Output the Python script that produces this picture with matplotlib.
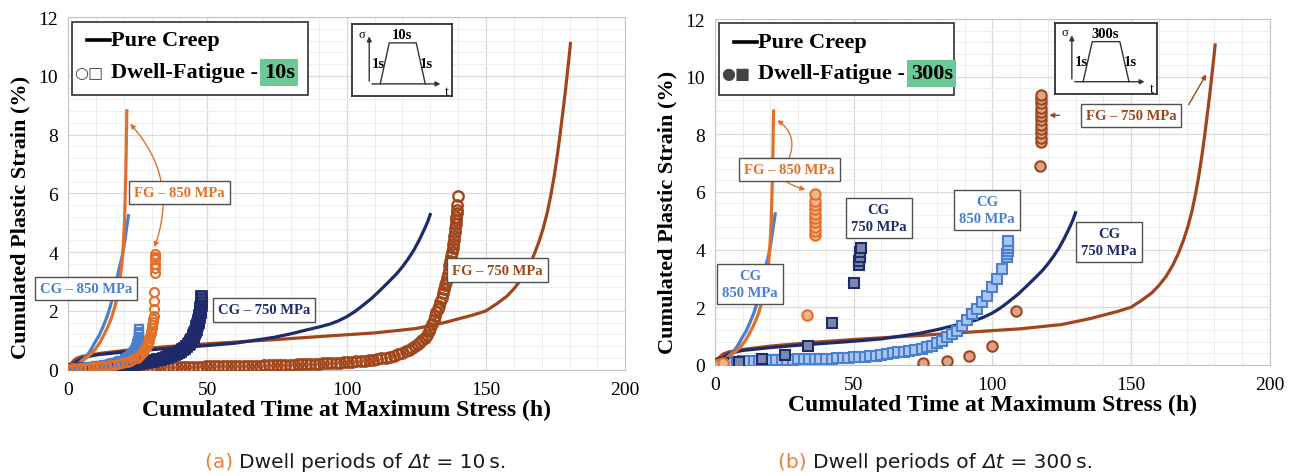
import matplotlib
matplotlib.use("Agg")
import matplotlib.pyplot as plt
from matplotlib.lines import Line2D
from matplotlib.ticker import MultipleLocator

# ---- pure creep curves (same in both panels) ----
creep_fg850_t = [0, 1.5, 3, 4.5, 6, 7.5, 9, 10.3, 11.5, 13, 14.5, 15.8, 16.9, 17.7, 18.3, 18.8,
                 19.3, 19.7, 20.0, 20.3, 20.5, 20.7, 20.9, 21.1]
creep_fg850_e = [0, 0.08, 0.15, 0.25, 0.35, 0.47, 0.6, 0.76, 0.93, 1.2, 1.5, 1.82, 2.17, 2.5,
                 2.9, 3.2, 3.53, 4.0, 4.5, 5.1, 5.8, 6.5, 7.5, 8.81]
creep_cg850_t = [0, 1.5, 3, 4.8, 6.7, 8.2, 9.5, 11.2, 12.7, 14, 15, 16, 16.9, 17.8, 18.5, 19.3,
                 19.9, 20.5, 21.0, 21.4, 21.7]
creep_cg850_e = [0, 0.07, 0.15, 0.3, 0.47, 0.67, 0.9, 1.17, 1.49, 1.8, 2.1, 2.45, 2.85, 3.2, 3.5,
                 3.8, 4.1, 4.45, 4.8, 5.05, 5.24]
creep_cg750_t = [0, 1, 2, 3.5, 5, 7.5, 10, 15, 20, 30, 40, 50, 60, 67, 74, 80, 86, 90, 94, 97,
                 100, 103, 106, 109, 112, 115, 118, 120, 122, 124, 126, 128, 129, 130]
creep_cg750_e = [0, 0.12, 0.2, 0.3, 0.38, 0.45, 0.5, 0.55, 0.6, 0.68, 0.75, 0.82, 0.9, 1.0, 1.1,
                 1.22, 1.36, 1.45, 1.55, 1.66, 1.8, 1.98, 2.2, 2.43, 2.7, 2.98, 3.27, 3.5, 3.76,
                 4.05, 4.4, 4.8, 5.02, 5.28]
creep_fg750_t = [0, 1, 2, 3, 5, 8, 12, 20, 35, 50, 74, 94, 110, 125, 135, 145, 150, 154, 157.5,
                 160, 162.5, 165, 167, 169, 170.5, 172, 173.3, 174.5, 175.6, 176.6, 177.5, 178.4,
                 179.2, 180, 180.3]
creep_fg750_e = [0, 0.2, 0.3, 0.38, 0.45, 0.5, 0.56, 0.65, 0.78, 0.88, 1.02, 1.15, 1.25, 1.4, 1.6,
                 1.85, 2.0, 2.25, 2.5, 2.75, 3.05, 3.45, 3.85, 4.35, 4.8, 5.35, 5.95, 6.6, 7.3,
                 8.0, 8.7, 9.4, 10.1, 10.8, 11.1]

# ---- dwell-fatigue 10 s ----
df10_fg850_t = [0, 1.5, 3, 4.5, 6, 7.5, 9, 10.5, 12, 13.5, 15, 16.5, 18, 19.5, 21, 22.3, 23.5,
                24.6, 25.5, 26.2, 26.8, 27.3, 27.8, 28.2, 28.6, 28.9, 29.2, 29.5, 29.7, 29.9,
                30.1, 30.3, 30.4, 30.55, 30.7, 30.8, 30.9, 31.0, 31.1, 31.2, 31.2, 31.2, 31.2,
                31.2]
df10_fg850_e = [0.01, 0.02, 0.03, 0.04, 0.05, 0.06, 0.08, 0.09, 0.11, 0.13, 0.15, 0.17, 0.2,
                0.23, 0.27, 0.31, 0.36, 0.41, 0.47, 0.53, 0.6, 0.67, 0.74, 0.82, 0.9, 0.98, 1.06,
                1.15, 1.24, 1.33, 1.42, 1.51, 1.61, 1.72, 1.83, 2.06, 2.34, 2.65, 3.3, 3.45, 3.6,
                3.75, 3.85, 3.93]
df10_cg850_t = [0, 1, 2, 3, 4, 5, 6, 7, 8, 9, 10, 11, 12, 13, 14, 15, 16, 17, 18, 18.8, 19.5,
                20.3, 21, 21.6, 22.2, 22.7, 23.2, 23.6, 24, 24.3, 24.6, 24.8, 25, 25.2, 25.3,
                25.4, 25.5, 25.55, 25.6]
df10_cg850_e = [0.02, 0.025, 0.03, 0.04, 0.05, 0.06, 0.07, 0.08, 0.09, 0.1, 0.11, 0.125, 0.14,
                0.155, 0.17, 0.19, 0.21, 0.235, 0.26, 0.285, 0.31, 0.345, 0.38, 0.42, 0.46, 0.51,
                0.56, 0.61, 0.67, 0.73, 0.8, 0.86, 0.93, 0.99, 1.05, 1.12, 1.2, 1.29, 1.38]
df10_cg750_t = [0, 1, 2, 3, 4, 5, 6, 7, 8, 9, 10, 11, 12, 13, 14, 15, 16, 17, 18, 19, 20, 21,
                22, 23, 24, 25, 26, 27, 28, 29, 30, 31, 32, 33, 34, 35, 36, 37, 38, 38.8, 39.5,
                40.3, 41, 41.7, 42.3, 42.9, 43.4, 43.9, 44.3, 44.7, 45, 45.3, 45.6, 45.9, 46.1,
                46.3, 46.5, 46.7, 46.9, 47.1, 47.2, 47.4, 47.5, 47.6, 47.7, 47.8, 47.9]
df10_cg750_e = [0.02, 0.025, 0.03, 0.035, 0.04, 0.045, 0.05, 0.055, 0.06, 0.065, 0.07, 0.075,
                0.08, 0.09, 0.1, 0.105, 0.11, 0.12, 0.13, 0.14, 0.15, 0.16, 0.17, 0.185, 0.2,
                0.215, 0.23, 0.245, 0.26, 0.28, 0.3, 0.325, 0.35, 0.375, 0.4, 0.43, 0.46, 0.495,
                0.53, 0.57, 0.6, 0.645, 0.69, 0.745, 0.8, 0.86, 0.92, 0.985, 1.05, 1.12, 1.18,
                1.25, 1.32, 1.4, 1.47, 1.55, 1.62, 1.7, 1.78, 1.87, 1.95, 2.04, 2.12, 2.21, 2.3,
                2.4, 2.5]
df10_fg750_t = [0, 1.5, 3, 4.5, 6, 7.5, 9, 10.5, 12, 13.5, 15, 16.5, 18, 19.5, 21, 22.5, 24,
                25.5, 27, 28.5, 30, 31.5, 33, 34.5, 36, 37.5, 39, 40.5, 42, 43.5, 45, 46.5, 48,
                49.5, 51, 52.5, 54, 55.5, 57, 58.5, 60, 61.5, 63, 64.5, 66, 67.5, 69, 70.5, 72,
                73.5, 75, 76.5, 78, 79.5, 81, 82.5, 84, 85.5, 87, 88.5, 90, 91.5, 93, 94.5, 96,
                97.5, 99, 100.5, 102, 103.5, 105, 106.5, 108, 109.5, 111, 112.5, 114, 115.5, 117,
                118.5, 120, 121.3, 122.5, 123.5, 124.5, 125.5, 126.4, 127.2, 128, 128.7, 129.4,
                130.0, 130.6, 131.2, 131.7, 132.2, 132.7, 133.2, 133.6, 134.1, 134.5, 135.0,
                135.3, 135.7, 136, 136.3, 136.6, 136.9, 137.2, 137.5, 137.8, 138.1, 138.3, 138.5,
                138.7, 138.9, 139, 139.2, 139.3, 139.4, 139.5, 139.6, 139.7, 139.8]
df10_fg750_e = [0.02, 0.02, 0.03, 0.03, 0.03, 0.03, 0.04, 0.04, 0.04, 0.05, 0.05, 0.05, 0.05,
                0.06, 0.06, 0.06, 0.06, 0.07, 0.07, 0.07, 0.07, 0.08, 0.08, 0.08, 0.08, 0.09,
                0.09, 0.09, 0.09, 0.1, 0.1, 0.1, 0.1, 0.11, 0.11, 0.11, 0.11, 0.12, 0.12, 0.12,
                0.12, 0.13, 0.13, 0.13, 0.13, 0.14, 0.14, 0.15, 0.15, 0.15, 0.15, 0.16, 0.16,
                0.17, 0.17, 0.18, 0.18, 0.19, 0.19, 0.2, 0.2, 0.21, 0.21, 0.22, 0.23, 0.24, 0.25,
                0.26, 0.27, 0.28, 0.29, 0.31, 0.32, 0.34, 0.36, 0.38, 0.41, 0.44, 0.48, 0.52,
                0.57, 0.62, 0.68, 0.74, 0.8, 0.86, 0.93, 1.0, 1.08, 1.18, 1.3,
                1.42, 1.55, 1.7, 1.82, 1.95, 2.07, 2.17, 2.3, 2.45, 2.6, 2.75, 2.88, 3.0, 3.12,
                3.25, 3.4, 3.55, 3.7, 3.87, 4.01, 4.15, 4.27, 4.4, 4.54, 4.68, 4.82, 4.95, 5.08,
                5.2, 5.33, 5.45, 5.6, 5.9]

# ---- dwell-fatigue 300 s ----
df300_fg850_t = [0, 1.5, 3, 33.3, 35.9, 35.9, 35.9, 35.9, 35.9, 35.9, 35.9, 35.9, 35.9, 35.9]
df300_fg850_e = [0, 0.03, 0.06, 1.73, 4.49, 4.65, 4.8, 4.95, 5.1, 5.25, 5.4, 5.55, 5.7, 5.94]
df300_cg750_t = [0, 1, 2, 3, 8.8, 16.8, 25.2, 33.4, 42.0, 50.0, 51.8, 52.0, 52.2, 52.4, 52.6]
df300_cg750_e = [0.02, 0.03, 0.04, 0.05, 0.09, 0.21, 0.35, 0.67, 1.45, 2.84, 3.45, 3.6, 3.75,
                 3.9, 4.05]
df300_cg850_t = [0, 1, 2, 3, 4, 6, 8, 10, 12, 14, 16, 18, 20, 22, 24, 26, 28, 30, 32, 34, 36, 38,
                 40, 42, 44, 46, 48, 50, 52, 54, 56, 58, 60, 62, 64, 66, 68, 70, 72, 74.5, 76.3,
                 78.1, 79.9, 81.7, 83.5, 85.3, 87.1, 88.9, 90.7, 92.5, 94.3, 96.1, 97.9, 99.7,
                 101.5, 103.3, 105.2, 105.4, 105.5, 105.6, 105.7, 105.8]
df300_cg850_e = [0.02, 0.03, 0.04, 0.05, 0.06, 0.08, 0.1, 0.12, 0.13, 0.14, 0.15, 0.16, 0.16,
                 0.17, 0.17, 0.18, 0.18, 0.19, 0.19, 0.2, 0.2, 0.21, 0.21, 0.22, 0.23, 0.24, 0.25,
                 0.26, 0.27, 0.28, 0.3, 0.32, 0.34, 0.37, 0.4, 0.43, 0.46, 0.48, 0.52, 0.55, 0.61,
                 0.67, 0.76, 0.84, 0.96, 1.08, 1.19, 1.36, 1.54, 1.77, 1.94, 2.17, 2.4, 2.69,
                 2.98, 3.33, 3.74, 3.85, 3.95, 4.05, 4.15, 4.3]
df300_fg750_t = [75.1, 83.5, 91.7, 99.7, 108.4, 117.0, 117.6, 117.6, 117.6, 117.6, 117.6, 117.6,
                 117.6, 117.6, 117.6, 117.6, 117.6, 117.6]
df300_fg750_e = [0.07, 0.15, 0.3, 0.67, 1.86, 6.9, 7.73, 7.88, 8.03, 8.18, 8.33, 8.48, 8.63,
                 8.78, 8.93, 9.08, 9.23, 9.36]

C_FG850 = "#E2702A"
C_FG750 = "#A0461C"
C_CG850 = "#4A7FD0"
C_CG750 = "#1E2A6A"
SERIF = "Liberation Serif"


def style_axes(ax, label_y):
    ax.set_xlim(0, 200)
    ax.set_ylim(0, 12)
    ax.xaxis.set_major_locator(MultipleLocator(50))
    ax.yaxis.set_major_locator(MultipleLocator(2))
    ax.xaxis.set_minor_locator(MultipleLocator(10))
    ax.yaxis.set_minor_locator(MultipleLocator(0.4))
    ax.grid(which="major", color="#DADADA", lw=0.9)
    ax.grid(which="minor", color="#EDEDED", lw=0.7)
    ax.set_axisbelow(True)
    for s in ax.spines.values():
        s.set_color("#C4C4C4")
    ax.tick_params(which="both", length=0, labelsize=14)
    ax.tick_params(axis="x", pad=8)
    ax.tick_params(axis="y", pad=7)
    for lab in ax.get_xticklabels() + ax.get_yticklabels():
        lab.set_family(SERIF)
    ax.set_xlabel("Cumulated Time at Maximum Stress (h)", family=SERIF, fontweight="bold",
                  fontsize=17, labelpad=1)
    ax.set_ylabel("Cumulated Plastic Strain (%)", family=SERIF, fontweight="bold",
                  fontsize=16)
    ax.yaxis.set_label_coords(-0.067, label_y)


def draw_creep(ax):
    ax.plot(creep_fg750_t, creep_fg750_e, color=C_FG750, lw=2.3, zorder=2)
    ax.plot(creep_cg750_t, creep_cg750_e, color=C_CG750, lw=2.3, zorder=2)
    ax.plot(creep_cg850_t, creep_cg850_e, color=C_CG850, lw=2.3, zorder=2)
    ax.plot(creep_fg850_t, creep_fg850_e, color=C_FG850, lw=2.3, zorder=2)


def label(ax, x, y, s, c, fs=10.5):
    ax.text(x, y, s, ha="center", va="center", color=c, fontsize=fs, fontweight="bold",
            family=SERIF, linespacing=1.4, zorder=6,
            bbox=dict(boxstyle="square,pad=0.35", fc="white", ec="#505050", lw=1))


def legend_box(ax, dwell, glyphs):
    ax.add_patch(plt.Rectangle((1.4, 9.35), 84.8, 2.5, fc="white", ec="#303030", lw=1.2,
                               zorder=7))
    ax.add_line(Line2D([6.8, 15.2], [11.22, 11.22], color="black", lw=2.6, zorder=8))
    ax.text(15.5, 11.22, "Pure Creep", family=SERIF, fontweight="bold", fontsize=16,
            va="center", zorder=8)
    ax.text(2.2, 10.12, glyphs, family="DejaVu Sans", fontsize=11.5, va="center",
            color="#444444", zorder=8)
    t = ax.text(15.5, 10.12, "Dwell-Fatigue - ", family=SERIF, fontweight="bold", fontsize=16,
                va="center", zorder=8)
    ax.annotate(dwell, xy=(1, 0), xycoords=t, va="bottom", ha="left", family=SERIF,
                fontweight="bold", fontsize=16, zorder=8,
                bbox=dict(boxstyle="square,pad=0.15", fc="#6CC894", ec="none"))


def cycle_inset(ax, x0, y0, w, h, dwell):
    ins = ax.inset_axes([x0, y0, w, h], transform=ax.transData, zorder=7)
    ins.set_xlim(0, 1)
    ins.set_ylim(0, 1)
    ins.set_xticks([])
    ins.set_yticks([])
    for s in ins.spines.values():
        s.set_color("#303030")
        s.set_linewidth(1.3)
    ins.annotate("", xy=(0.17, 0.87), xytext=(0.17, 0.17),
                 arrowprops=dict(arrowstyle="-|>", color="#333333", lw=1, mutation_scale=7))
    ins.annotate("", xy=(0.91, 0.17), xytext=(0.17, 0.17),
                 arrowprops=dict(arrowstyle="-|>", color="#333333", lw=1, mutation_scale=7))
    ins.plot([0.28, 0.37, 0.64, 0.73], [0.17, 0.74, 0.74, 0.17], color="#333333", lw=1)
    ins.text(0.1, 0.87, "\u03c3", family=SERIF, fontsize=9, va="center", ha="center")
    ins.text(0.95, 0.07, "t", family=SERIF, fontsize=10, va="center", ha="center")
    ins.text(0.5, 0.76, dwell, family=SERIF, fontsize=10.5, va="bottom", ha="center",
             fontweight="bold")
    ins.text(0.33, 0.46, "1s", family=SERIF, fontsize=10.5, va="center", ha="right",
             fontweight="bold")
    ins.text(0.68, 0.46, "1s", family=SERIF, fontsize=10.5, va="center", ha="left",
             fontweight="bold")


fig = plt.figure(figsize=(12.93, 4.77), dpi=100)
ax_a = fig.add_axes([0.0526, 0.223, 0.431, 0.739])
ax_b = fig.add_axes([0.553, 0.233, 0.429, 0.725])

# ---- panel (a) ----
draw_creep(ax_a)
open_kw = dict(ls="none", mfc="none", zorder=3)
ax_a.plot(df10_fg750_t, df10_fg750_e, marker="o", ms=7.5, mew=1.7, color=C_FG750, **open_kw)
ax_a.plot(df10_cg750_t, df10_cg750_e, marker="s", ms=7, mew=2, color=C_CG750, **open_kw)
ax_a.plot(df10_cg850_t, df10_cg850_e, marker="s", ms=6, mew=1.6, color=C_CG850, **open_kw)
ax_a.plot(df10_fg850_t, df10_fg850_e, marker="o", ms=6.5, mew=1.5, color=C_FG850, **open_kw)
style_axes(ax_a, 0.435)
legend_box(ax_a, "10s", "\u25cb\u25a1")
cycle_inset(ax_a, 102, 9.31, 35.9, 2.45, "10s")

label(ax_a, 39.9, 6.04, "FG \u2013 850 MPa", C_FG850)
label(ax_a, 6.5, 2.77, "CG \u2013 850 MPa", C_CG850)
label(ax_a, 70.4, 2.03, "CG \u2013 750 MPa", C_CG750)
label(ax_a, 154, 3.39, "FG \u2013 750 MPa", C_FG750)
ax_a.annotate("", xy=(22.3, 8.37), xytext=(31.0, 4.17),
              arrowprops=dict(arrowstyle="<|-|>", color=C_FG850, lw=1, mutation_scale=7,
                              shrinkA=0, shrinkB=0, connectionstyle="arc3,rad=0.3"), zorder=5)

# ---- panel (b) ----
draw_creep(ax_b)
ax_b.plot(df300_fg750_t, df300_fg750_e, ls="none", marker="o", ms=7.5, mfc="#D9A58A",
          mec=C_FG750, mew=1.5, zorder=3)
ax_b.plot(df300_cg850_t, df300_cg850_e, ls="none", marker="s", ms=7, mfc="#A9C6EE",
          mec=C_CG850, mew=1.5, zorder=3)
ax_b.plot(df300_cg750_t, df300_cg750_e, ls="none", marker="s", ms=7, mfc="#7A88AE",
          mec=C_CG750, mew=1.5, zorder=3)
ax_b.plot(df300_fg850_t, df300_fg850_e, ls="none", marker="o", ms=7.5, mfc="#F3B488",
          mec=C_FG850, mew=1.5, zorder=3)
style_axes(ax_b, 0.445)
legend_box(ax_b, "300s", "\u25cf\u25a0")
cycle_inset(ax_b, 122.4, 9.41, 36.8, 2.44, "300s")

label(ax_b, 26.9, 6.79, "FG \u2013 850 MPa", C_FG850)
label(ax_b, 12.6, 2.8, "CG\n850 MPa", C_CG850)
label(ax_b, 59, 5.1, "CG\n750 MPa", C_CG750)
label(ax_b, 98.0, 5.38, "CG\n850 MPa", C_CG850)
label(ax_b, 142, 4.26, "CG\n750 MPa", C_CG750)
label(ax_b, 150, 8.66, "FG \u2013 750 MPa", C_FG750)
arr = dict(arrowstyle="-|>", lw=1, mutation_scale=7, shrinkA=0, shrinkB=0)
ax_b.annotate("", xy=(22.4, 8.49), xytext=(26.6, 7.15),
              arrowprops=dict(color=C_FG850, connectionstyle="arc3,rad=0.4", **arr), zorder=5)
ax_b.annotate("", xy=(32.6, 6.09), xytext=(24.0, 6.46),
              arrowprops=dict(color=C_FG850, connectionstyle="arc3,rad=0.1", **arr), zorder=5)
ax_b.annotate("", xy=(120.5, 8.66), xytext=(124.2, 8.66),
              arrowprops=dict(color=C_FG750, **arr), zorder=5)
ax_b.annotate("", xy=(177.1, 10.08), xytext=(170.8, 9.03),
              arrowprops=dict(color=C_FG750, **arr), zorder=5)

# ---- captions ----
CAP = dict(family="DejaVu Sans", fontsize=14.5)


def caption(x, tag, dwell):
    t = fig.text(x, 0.031, tag + " ", color="#EE8033", va="center", **CAP)
    t = plt.annotate("Dwell periods of ", xy=(1, 0), xycoords=t, va="bottom", ha="left",
                     color="#1A1A1A", **CAP)
    t = plt.annotate("\u0394t", xy=(1, 0), xycoords=t, va="bottom", ha="left",
                     color="#1A1A1A", style="italic", **CAP)
    plt.annotate(" = " + dwell + "\u2009s.", xy=(1, 0), xycoords=t, va="bottom", ha="left",
                 color="#1A1A1A", **CAP)


caption(0.1585, "(a)", "10")
caption(0.6017, "(b)", "300")

fig.savefig("out.png", dpi=100)
